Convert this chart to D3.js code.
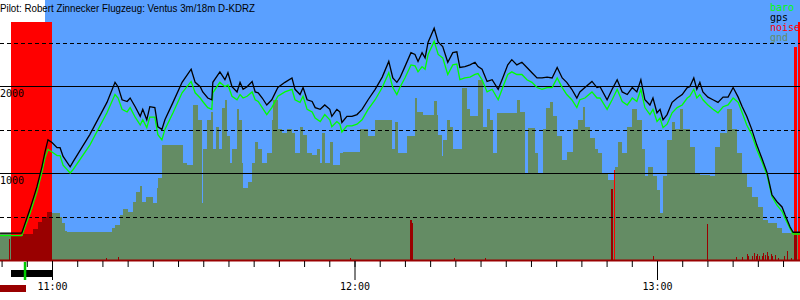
<!DOCTYPE html>
<html>
<head>
<meta charset="utf-8">
<script src="https://cdn.jsdelivr.net/npm/d3@7"></script>
<style>
body { margin: 0; background: #fff; }
svg text { font-family: "DejaVu Sans Mono", monospace; font-size: 10px; }
</style>
</head>
<body>
<div id="graph"></div>
<script>
var title = "Pilot: Robert Zinnecker Flugzeug: Ventus 3m/18m D-KDRZ";

// all times are minutes after 11:00
var trackMin = [-10.3, -6.0, -4.4, -3.0, -2.0, -1.4, -0.8, 0.0, 1.0, 1.6, 2.2, 3.6, 4.2, 7.5, 10.9, 12.5, 13.1, 13.9, 14.9, 15.5,
    16.5, 17.5, 18.0, 18.8, 19.4, 20.4, 21.0, 21.8, 22.4, 24.0, 25.8, 27.6, 28.4, 29.4, 29.9, 30.9, 31.7, 31.9, 33.3, 34.3,
    34.9, 35.7, 36.7, 37.3, 37.9, 38.7, 39.7, 40.3, 40.9, 41.7, 42.6, 43.6, 44.8, 46.2, 47.6, 48.2, 49.2, 49.8, 50.6, 51.6,
    52.2, 53.2, 54.1, 55.1, 55.5, 56.5, 57.1, 57.5, 58.5, 59.5, 60.5, 61.5, 62.7, 64.1, 65.5, 66.8, 67.6, 68.4, 69.0, 70.0,
    71.2, 72.0, 72.6, 73.4, 74.0, 74.6, 75.8, 76.6, 77.5, 78.5, 79.5, 80.3, 80.9, 81.9, 82.9, 83.9, 84.5, 85.3, 86.3, 87.3,
    88.5, 89.4, 90.4, 91.2, 92.2, 93.2, 94.2, 95.2, 96.2, 97.2, 98.2, 99.2, 100.2, 101.2, 102.1, 103.1, 104.1, 104.7, 105.7, 107.1,
    108.1, 108.7, 110.1, 111.1, 112.1, 113.1, 114.1, 115.1, 116.0, 116.8, 117.6, 118.6, 119.2, 120.0, 120.6, 121.2, 122.0, 123.0, 124.0, 125.0,
    126.0, 126.5, 127.3, 127.9, 128.5, 129.1, 130.1, 131.1, 132.1, 133.1, 134.1, 135.1, 136.1, 136.9, 137.8, 138.8, 139.8, 140.8, 141.8, 142.8,
    143.8, 144.8, 145.4, 146.4, 147.0, 148.4];
var gpsAlt = [320, 320, 590, 850, 1080, 1250, 1390, 1360, 1300, 1300, 1200, 1080, 1140, 1450, 1820, 2050, 2000, 1850, 1830, 1870,
    1770, 1660, 1740, 1620, 1770, 1760, 1540, 1510, 1620, 1820, 2050, 2200, 2050, 2000, 1940, 1870, 1850, 2050, 2170, 2080,
    2160, 2000, 1940, 2050, 1970, 2000, 2060, 1940, 1930, 1870, 1790, 1850, 1990, 2050, 2100, 1970, 1910, 1990, 1850, 1830,
    1760, 1740, 1790, 1740, 1660, 1740, 1710, 1590, 1660, 1660, 1680, 1740, 1850, 1970, 2110, 2290, 2100, 2050, 2100, 2230,
    2390, 2370, 2290, 2390, 2330, 2510, 2670, 2510, 2460, 2280, 2390, 2400, 2220, 2230, 2250, 2280, 2230, 2200, 2060, 2080,
    1970, 2100, 2250, 2310, 2250, 2280, 2220, 2160, 2100, 2100, 2110, 2100, 2220, 2100, 2050, 1970, 1870, 1940, 1990, 2060,
    1990, 2000, 1850, 1970, 2080, 1940, 1910, 1990, 1940, 2080, 1850, 1790, 1870, 1700, 1740, 1620, 1680, 1820, 1870, 1910,
    1990, 2000, 2100, 1970, 2050, 1940, 1880, 1850, 1820, 1880, 1880, 1990, 1880, 1770, 1660, 1510, 1330, 1180, 1020, 760,
    680, 620, 530, 390, 330, 330];
var baroAlt = [290, 290, 540, 790, 1020, 1180, 1280, 1250, 1210, 1210, 1100, 1010, 1050, 1330, 1700, 1910, 1870, 1740, 1710, 1760,
    1650, 1560, 1620, 1530, 1650, 1650, 1450, 1390, 1510, 1700, 1930, 2060, 1930, 1870, 1830, 1760, 1740, 1930, 2050, 2000,
    2020, 1890, 1850, 1910, 1870, 1890, 1940, 1850, 1830, 1760, 1680, 1760, 1890, 1940, 1970, 1850, 1820, 1890, 1740, 1710,
    1640, 1600, 1680, 1620, 1540, 1600, 1570, 1480, 1550, 1550, 1570, 1620, 1740, 1850, 1990, 2160, 1990, 1910, 1990, 2100,
    2250, 2240, 2170, 2230, 2200, 2370, 2520, 2370, 2330, 2140, 2250, 2260, 2080, 2100, 2110, 2140, 2150, 2080, 1940, 1970,
    1850, 1990, 2140, 2170, 2140, 2140, 2080, 2050, 1990, 1970, 1990, 1990, 2100, 1990, 1910, 1850, 1760, 1850, 1870, 1940,
    1870, 1870, 1740, 1850, 1970, 1830, 1790, 1870, 1830, 1970, 1760, 1680, 1740, 1600, 1640, 1530, 1570, 1700, 1760, 1790,
    1870, 1890, 1970, 1870, 1910, 1850, 1790, 1740, 1700, 1770, 1790, 1870, 1820, 1700, 1560, 1450, 1280, 1140, 990, 740,
    640, 570, 490, 370, 310, 310];

var gndMin = [-10.3, -8.1, -4.4, -1.4, 0.0, 1.6, 2.0, 2.6, 3.0, 11.9, 12.5, 13.5, 14.1, 15.1, 16.1, 16.7, 17.5, 17.8, 18.6, 20.0,
    20.8, 21.0, 21.8, 26.0, 26.8, 28.0, 29.0, 29.7, 29.9, 30.7, 31.5, 31.9, 32.5, 33.1, 33.7, 34.3, 34.7, 35.3, 35.7, 36.7,
    37.1, 37.7, 37.9, 38.9, 39.7, 40.3, 40.9, 41.6, 42.6, 43.6, 43.8, 44.8, 45.6, 46.6, 47.6, 48.2, 49.2, 49.8, 50.6, 51.6,
    52.6, 53.1, 53.5, 54.1, 55.1, 55.7, 57.1, 57.7, 59.7, 61.1, 62.7, 64.1, 67.4, 68.0, 68.6, 70.4, 72.0, 72.4, 73.6, 75.7,
    76.3, 76.6, 77.3, 77.5, 78.3, 78.9, 79.5, 81.3, 82.3, 82.9, 84.5, 85.5, 86.3, 86.9, 87.5, 88.3, 92.2, 92.8, 93.8, 94.4,
    95.8, 96.4, 97.4, 98.0, 98.8, 99.4, 100.2, 101.2, 102.1, 103.3, 104.3, 105.3, 105.7, 106.7, 107.7, 108.3, 109.1, 110.3, 111.7, 112.3,
    113.1, 114.1, 115.1, 116.0, 117.0, 117.6, 118.2, 119.2, 120.0, 120.6, 121.2, 122.0, 123.0, 123.6, 124.6, 125.2, 126.5, 127.5, 128.5, 130.5,
    131.5, 132.5, 133.9, 134.9, 135.9, 136.9, 137.8, 138.8, 140.0, 141.0, 142.0, 143.8, 144.8, 148.4];
var gndAlt = [320, 410, 490, 540, 550, 510, 440, 340, 330, 380, 410, 530, 600, 560, 680, 790, 860, 680, 740, 670,
    840, 950, 1330, 1130, 1100, 1790, 1620, 670, 1280, 1620, 1710, 1280, 1540, 1280, 1760, 1850, 1430, 1130, 1280, 1740,
    1620, 1130, 840, 910, 1130, 1370, 1280, 1130, 1240, 1620, 1850, 1510, 1470, 1510, 1470, 1240, 1540, 1450, 1240, 1220,
    1280, 1130, 1470, 1130, 1360, 1100, 1240, 1250, 1250, 1510, 1430, 1620, 1280, 1600, 1240, 1430, 1870, 1710, 1680, 1830,
    1680, 1450, 1200, 1390, 1620, 1540, 1280, 1990, 1740, 1660, 2080, 1540, 1740, 1620, 1240, 1700, 1850, 1710, 1010, 1530,
    1240, 1010, 1510, 1760, 1820, 1660, 1430, 1160, 1250, 1510, 1620, 1770, 1540, 1410, 1280, 1240, 1010, 930, 1080, 1370,
    1240, 1540, 1740, 1620, 1280, 970, 1080, 970, 820, 550, 970, 1390, 1590, 1510, 1740, 1510, 1310, 1010, 990, 970,
    1310, 1470, 1740, 1510, 1240, 1010, 850, 740, 620, 470, 440, 380, 320, 320];

// noise level, 0..1000
var noiseFrom = [-8.5, -8.1, -5.75, -3.8, -2.8, -2.0, -1.0, 10.7, 13.1, 59.1, 71.0, 71.4, 79.7, 85.8, 110.9, 119.3, 129.9, 135.7, 136.8,
    137.85, 138.0, 138.8, 139.2, 139.6, 139.8, 140.2, 140.8, 141.0, 141.4, 141.8, 142.0, 142.6, 142.8, 143.4, 144.0, 145.2, 145.8, 146.6, 147.1];
var noiseTo = [-8.3, -5.75, -3.8, -2.8, -2.0, -1.0, 0.0, 10.9, 13.3, 59.3, 71.4, 71.6, 79.9, 86.0, 111.3, 119.5, 130.1, 135.9, 137.0,
    138.0, 138.2, 139.0, 139.4, 139.8, 140.0, 140.4, 141.0, 141.2, 141.6, 142.0, 142.2, 142.8, 143.0, 143.6, 144.2, 145.4, 146.0, 146.8, 147.7];
var noiseVal = [90, 100, 110, 130, 160, 180, 200, 8, 13, 8, 170, 155, 8, 8, 300, 17, 150, 13, 13,
    25, 17, 17, 30, 17, 25, 17, 17, 30, 21, 34, 17, 25, 17, 21, 8, 17, 38, 8, 105];

// engine / loud noise spans
var engineFrom = [-8.1, 111.5, 147.1, 148.0];
var engineTo = [0.0, 111.7, 147.7, 148.4];
var engineVal = [1000, 380, 895, 1000];

var skyFrom = -1.4;          // blue sky starts here
var towFrom = -8.1, towTo = 0.0;
var takeoffMin = -5.35;
var blockFrom = -10.3, blockTo = -5.2;

var gridAlts = [500, 1000, 1500, 2000, 2500];
var labelAlts = [1000, 2000];
var legendNames = ["baro", "gps", "noise", "gnd"];
var legendColors = ["#00ff00", "#000000", "#ff0000", "#648c64"];

var startMin = -10.3, endMin = 148.4;

function showFlight(){
    var width = 800, height = 300;
    var svg = d3.select("#graph").append("svg")
        .attr("width", width)
        .attr("height", height);

    var base = new Date(2020, 0, 1, 11, 0, 0);
    function t(m){ return new Date(base.getTime() + m * 60000); }

    var x = d3.scaleTime().domain([t(0), t(120)]).range([52, 657]);
    var y = d3.scaleLinear().domain([0, 2500]).range([261, 43.1]);
    var n = d3.scaleLinear().domain([0, 1000]).range([260, 22]);

    // sky
    svg.append("rect")
        .attr("x", x(t(skyFrom))).attr("y", 0)
        .attr("width", x(t(endMin)) - x(t(skyFrom))).attr("height", 260)
        .attr("fill", "#5aa0ff")
        .attr("shape-rendering", "crispEdges");

    // ground
    var gnd = gndMin.map(function(m, i){ return {m: m, a: gndAlt[i]}; });
    svg.append("path")
        .datum(gnd)
        .attr("fill", "#648c64")
        .attr("shape-rendering", "crispEdges")
        .attr("d", d3.area()
            .curve(d3.curveStepAfter)
            .x(function(d){ return x(t(d.m)); })
            .y0(y(0))
            .y1(function(d){ return y(d.a); }));

    // engine spans
    var eng = engineFrom.map(function(f, i){ return {f: f, to: engineTo[i], v: engineVal[i]}; });
    svg.append("g").selectAll("rect")
        .data(eng).enter().append("rect")
        .attr("x", function(d){ return x(t(d.f)); })
        .attr("width", function(d){ return Math.max(1, x(t(d.to)) - x(t(d.f))); })
        .attr("y", function(d){ return n(d.v); })
        .attr("height", function(d){ return n(0) - n(d.v); })
        .attr("fill", "#ff0000")
        .attr("shape-rendering", "crispEdges");

    // noise bars
    var noise = noiseFrom.map(function(f, i){ return {f: f, to: noiseTo[i], v: noiseVal[i]}; });
    svg.append("g").selectAll("rect")
        .data(noise).enter().append("rect")
        .attr("x", function(d){ return x(t(d.f)); })
        .attr("width", function(d){ return Math.max(1, x(t(d.to)) - x(t(d.f))); })
        .attr("y", function(d){ return n(d.v); })
        .attr("height", function(d){ return n(0) - n(d.v); })
        .attr("fill", "#990000")
        .attr("shape-rendering", "crispEdges");

    // altitude grid
    svg.append("g").selectAll("line")
        .data(gridAlts).enter().append("line")
        .attr("x1", 0).attr("x2", width)
        .attr("y1", function(d){ return Math.floor(y(d)) + 0.5; })
        .attr("y2", function(d){ return Math.floor(y(d)) + 0.5; })
        .attr("stroke", "#000")
        .attr("stroke-width", 1)
        .attr("stroke-dasharray", function(d){ return d % 1000 == 0 ? null : "4,3"; })
        .attr("shape-rendering", "crispEdges");

    svg.append("g").selectAll("text")
        .data(labelAlts).enter().append("text")
        .attr("x", 0)
        .attr("y", function(d){ return Math.floor(y(d)) + 10.5; })
        .attr("fill", "#000")
        .text(function(d){ return d; });

    // baro and gps traces
    var track = trackMin.map(function(m, i){ return {m: m, g: gpsAlt[i], b: baroAlt[i]}; });
    svg.append("path")
        .datum(track)
        .attr("fill", "none")
        .attr("stroke", "#00ff00")
        .attr("stroke-width", 1.3)
        .attr("d", d3.line()
            .x(function(d){ return x(t(d.m)); })
            .y(function(d){ return y(d.b); }));
    svg.append("path")
        .datum(track)
        .attr("fill", "none")
        .attr("stroke", "#000")
        .attr("stroke-width", 1.3)
        .attr("d", d3.line()
            .x(function(d){ return x(t(d.m)); })
            .y(function(d){ return y(d.g); }));

    // time axis
    svg.append("line")
        .attr("x1", 0).attr("x2", width)
        .attr("y1", 260.5).attr("y2", 260.5)
        .attr("stroke", "#990000")
        .attr("stroke-width", 2);

    var minor = d3.timeMinute.every(5).range(t(startMin), t(endMin));
    var minorAxis = svg.append("g")
        .attr("transform", "translate(0,261)")
        .call(d3.axisBottom(x).tickValues(minor).tickSize(6).tickFormat(""));
    minorAxis.select(".domain").remove();

    var hours = d3.timeHour.every(1).range(t(startMin), t(endMin));
    var hourAxis = svg.append("g")
        .attr("transform", "translate(0,261)")
        .call(d3.axisBottom(x).tickValues(hours).tickSize(19).tickPadding(3)
            .tickFormat(d3.timeFormat("%H:%M")));
    hourAxis.select(".domain").remove();
    hourAxis.selectAll("text")
        .style("font-family", "DejaVu Sans Mono, monospace")
        .style("font-size", "10px")
        .attr("fill", "#000");

    // tow bar, takeoff mark, block
    svg.append("rect")
        .attr("x", x(t(towFrom))).attr("y", 270)
        .attr("width", x(t(towTo)) - x(t(towFrom))).attr("height", 7)
        .attr("fill", "#000")
        .attr("shape-rendering", "crispEdges");
    svg.append("line")
        .attr("x1", x(t(takeoffMin))).attr("x2", x(t(takeoffMin)))
        .attr("y1", 262).attr("y2", 280)
        .attr("stroke", "#00cc00")
        .attr("stroke-width", 2.5);
    svg.append("rect")
        .attr("x", x(t(blockFrom))).attr("y", 285)
        .attr("width", x(t(blockTo)) - x(t(blockFrom))).attr("height", 7)
        .attr("fill", "#990000")
        .attr("shape-rendering", "crispEdges");

    // legend
    svg.append("g").selectAll("text")
        .data(legendNames).enter().append("text")
        .attr("x", 770)
        .attr("y", function(d, i){ return 11 + i * 10; })
        .attr("fill", function(d, i){ return legendColors[i]; })
        .text(function(d){ return d; });

    // title
    svg.append("text")
        .attr("x", 0).attr("y", 12)
        .attr("textLength", 255)
        .attr("lengthAdjust", "spacingAndGlyphs")
        .style("font-family", "Liberation Sans, Arial, sans-serif")
        .style("font-size", "11px")
        .attr("fill", "#000")
        .text(title);
}

showFlight();
</script>
</body>
</html>
